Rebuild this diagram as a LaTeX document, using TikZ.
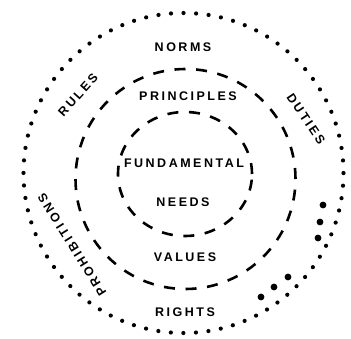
\documentclass[tikz,border=0pt]{standalone}
\usepackage{fontspec}
\newfontfamily\ringfont[LetterSpace=20]{Liberation Sans}
\begin{document}
\begin{tikzpicture}[x=1pt,y=1pt,every node/.style={font=\fontsize{12.5}{14}\selectfont\ringfont\bfseries,inner sep=0pt},anillo/.style={line width=2.6pt,dash pattern=on 11pt off 10.6pt},puntos/.style={line width=4.2pt,line cap=round,dash pattern=on 0pt off 12.566pt}]
\useasboundingbox (0,0) rectangle (351,338);
\draw[puntos] (183.5,165) circle (160);
\draw[anillo] (185.5,159) circle (110);
\draw[anillo] (185,164) ellipse (67 and 62);
\node (no) at (183,291) {NORMS};
\node (pr) at (188,242) {PRINCIPLES};
\node (fu) at (184,175) {FUNDAMENTAL};
\node (ne) at (183,136) {NEEDS};
\node (va) at (185,81) {VALUES};
\node (ri) at (185,26) {RIGHTS};
\node[rotate=48] (ru) at (78,243) {RULES};
\node[rotate=-56] (du) at (306,219) {DUTIES};
\node[rotate=122] (ph) at (72,93) {PROHIBITIONS};
\foreach \p in {(323,133),(320,116),(318,100),(288,61),(274,51),(261,41)} \fill \p circle (3.4);
\end{tikzpicture}
\end{document}
